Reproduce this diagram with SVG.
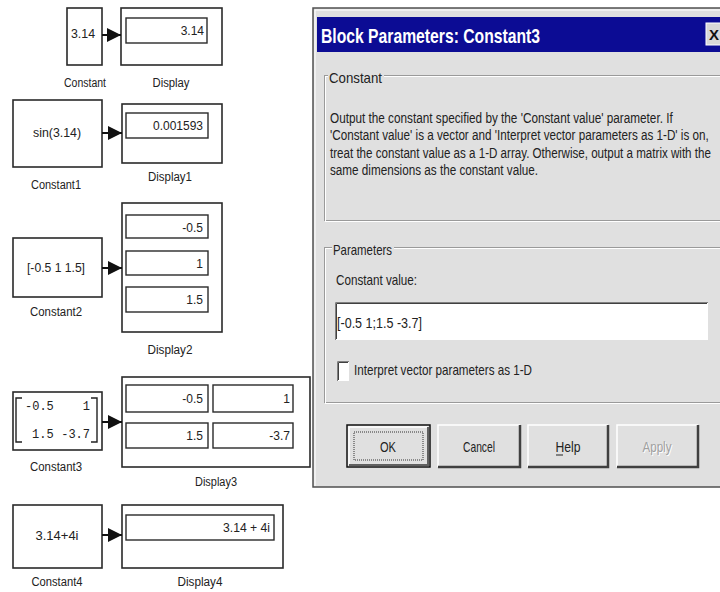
<svg xmlns="http://www.w3.org/2000/svg" width="720" height="592" viewBox="0 0 720 592">
<defs>
<style>
.blk{fill:#fff;stroke:#2a2a2a;stroke-width:1.6}
.fld{fill:#fff;stroke:#2a2a2a;stroke-width:1.4}
.t{font-family:"Liberation Sans",Arial,sans-serif;font-size:12px;fill:#222}
.c{text-anchor:middle}
.e{text-anchor:end}
.m{font-family:"Liberation Mono","DejaVu Sans Mono",monospace;font-size:12px;fill:#222}
.d{font-family:"Liberation Sans",Arial,sans-serif;font-size:15px;fill:#222}
.conn{stroke:#111;stroke-width:2;fill:none}
.etch{fill:none;stroke:#9a9a9a;stroke-width:1}
.etchw{fill:none;stroke:#fff;stroke-width:1}
</style>
<marker id="ah" markerUnits="userSpaceOnUse" markerWidth="14" markerHeight="14" viewBox="0 0 14 14" refX="14" refY="7" orient="auto">
<path d="M0,0 L14,7 L0,14 z" fill="#111"/>
</marker>
</defs>
<rect width="720" height="592" fill="#fff"/>

<g id="Constant">
<rect class="blk" x="67" y="8" width="35" height="57"/>
<text class="t" x="71" y="38" textLength="24" lengthAdjust="spacingAndGlyphs">3.14</text>
<text class="t c" x="85" y="87" textLength="42" lengthAdjust="spacingAndGlyphs">Constant</text>
</g>
<g id="Display">
<rect class="blk" x="121" y="8" width="101" height="57"/>
<rect class="fld" x="126" y="18" width="81" height="25"/>
<text class="t e" x="204" y="35">3.14</text>
<text class="t c" x="171" y="87" textLength="37" lengthAdjust="spacingAndGlyphs">Display</text>
</g>

<g id="Constant1">
<rect class="blk" x="13" y="100" width="89" height="67"/>
<text class="t c" x="57" y="137" textLength="48" lengthAdjust="spacingAndGlyphs">sin(3.14)</text>
<text class="t c" x="56" y="189" textLength="50" lengthAdjust="spacingAndGlyphs">Constant1</text>
</g>
<g id="Display1">
<rect class="blk" x="122" y="104" width="100" height="59"/>
<rect class="fld" x="126" y="113" width="82" height="25"/>
<text class="t e" x="203" y="130" textLength="50" lengthAdjust="spacingAndGlyphs">0.001593</text>
<text class="t c" x="170" y="181" textLength="44" lengthAdjust="spacingAndGlyphs">Display1</text>
</g>

<g id="Constant2">
<rect class="blk" x="13" y="238" width="89" height="59"/>
<text class="t c" x="56" y="272" textLength="58" lengthAdjust="spacingAndGlyphs">[-0.5 1 1.5]</text>
<text class="t c" x="56" y="316" textLength="52" lengthAdjust="spacingAndGlyphs">Constant2</text>
</g>
<g id="Display2">
<rect class="blk" x="122" y="203" width="100" height="129"/>
<rect class="fld" x="126" y="215" width="82" height="23"/>
<rect class="fld" x="126" y="251" width="82" height="24"/>
<rect class="fld" x="126" y="287" width="82" height="25"/>
<text class="t e" x="203" y="232">-0.5</text>
<text class="t e" x="203" y="268">1</text>
<text class="t e" x="203" y="304">1.5</text>
<text class="t c" x="170" y="354" textLength="45" lengthAdjust="spacingAndGlyphs">Display2</text>
</g>

<g id="Constant3">
<rect class="blk" x="13" y="392" width="89" height="58"/>
<path d="M22,398 H16 V442 H22 M91,398 H97 V442 H91" fill="none" stroke="#222" stroke-width="1.4"/>
<text class="m" x="25" y="410">-0.5</text>
<text class="m e" x="90" y="410">1</text>
<text class="m" x="32" y="438">1.5</text>
<text class="m e" x="90" y="438">-3.7</text>
<text class="t c" x="56" y="471" textLength="52" lengthAdjust="spacingAndGlyphs">Constant3</text>
</g>
<g id="Display3">
<rect class="blk" x="122" y="377" width="188" height="90"/>
<rect class="fld" x="126" y="385" width="82" height="27"/>
<rect class="fld" x="213" y="385" width="80" height="27"/>
<rect class="fld" x="126" y="423" width="82" height="25"/>
<rect class="fld" x="213" y="423" width="80" height="25"/>
<text class="t e" x="203" y="403">-0.5</text>
<text class="t e" x="290" y="403">1</text>
<text class="t e" x="203" y="440">1.5</text>
<text class="t e" x="290" y="440">-3.7</text>
<text class="t c" x="216" y="486" textLength="42" lengthAdjust="spacingAndGlyphs">Display3</text>
</g>

<g id="Constant4">
<rect class="blk" x="13" y="505" width="89" height="63"/>
<text class="t c" x="57" y="540" textLength="43" lengthAdjust="spacingAndGlyphs">3.14+4i</text>
<text class="t c" x="57" y="586" textLength="51" lengthAdjust="spacingAndGlyphs">Constant4</text>
</g>
<g id="Display4">
<rect class="blk" x="122" y="505" width="161" height="63"/>
<rect class="fld" x="126" y="515" width="148" height="25"/>
<text class="t e" x="270" y="532" textLength="47" lengthAdjust="spacingAndGlyphs">3.14 + 4i</text>
<text class="t c" x="200" y="586" textLength="45" lengthAdjust="spacingAndGlyphs">Display4</text>
</g>

<g id="connectors">
<path class="conn" d="M102,35 H121" marker-end="url(#ah)"/>
<path class="conn" d="M102,133 H122" marker-end="url(#ah)"/>
<path class="conn" d="M102,268 H122" marker-end="url(#ah)"/>
<path class="conn" d="M102,422 H122" marker-end="url(#ah)"/>
<path class="conn" d="M102,535 H122" marker-end="url(#ah)"/>
</g>

<g id="dialog">
<rect x="313" y="8" width="420" height="479" fill="#e0e0e0" stroke="#505050" stroke-width="1.5"/>
<path d="M315,486 V10 H725" fill="none" stroke="#fff" stroke-width="1"/>
<rect x="317" y="17" width="410" height="35" fill="#0c0c94"/>
<text x="321" y="43" font-family="'Liberation Sans',Arial,sans-serif" font-size="21" font-weight="bold" fill="#fff" textLength="219" lengthAdjust="spacingAndGlyphs">Block Parameters: Constant3</text>
<rect x="706" y="23" width="20" height="22" fill="#d8d8d8" stroke="#fff" stroke-width="1"/>
<text x="709" y="40" font-family="'Liberation Sans',Arial,sans-serif" font-size="15" font-weight="bold" fill="#111">X</text>

<rect class="etch" x="324.5" y="75.5" width="410" height="145"/>
<rect class="etchw" x="325.5" y="76.5" width="410" height="145"/>
<rect x="328" y="68" width="56" height="18" fill="#e0e0e0"/>
<text class="d" x="329" y="83" textLength="53" lengthAdjust="spacingAndGlyphs">Constant</text>
<text class="d" transform="translate(330,123) scale(0.72,1)" textLength="476" lengthAdjust="spacingAndGlyphs">Output the constant specified by the 'Constant value' parameter. If</text>
<text class="d" transform="translate(330,140) scale(0.72,1)" textLength="526" lengthAdjust="spacingAndGlyphs">'Constant value' is a vector and 'Interpret vector parameters as 1-D' is on,</text>
<text class="d" transform="translate(330,158) scale(0.72,1)" textLength="529" lengthAdjust="spacingAndGlyphs">treat the constant value as a 1-D array. Otherwise, output a matrix with the</text>
<text class="d" transform="translate(330,175) scale(0.72,1)" textLength="289" lengthAdjust="spacingAndGlyphs">same dimensions as the constant value.</text>

<rect class="etch" x="324.5" y="247.5" width="410" height="155"/>
<rect class="etchw" x="325.5" y="248.5" width="410" height="155"/>
<rect x="332" y="240" width="62" height="18" fill="#e0e0e0"/>
<text class="d" x="333" y="255" textLength="59" lengthAdjust="spacingAndGlyphs">Parameters</text>
<text class="d" x="336" y="285" textLength="81" lengthAdjust="spacingAndGlyphs">Constant value:</text>
<rect x="335" y="302" width="373" height="38" fill="#fff"/>
<path d="M335.5,340 V302.5 H708" fill="none" stroke="#808080" stroke-width="1"/>
<path d="M336.5,339 V303.5 H707" fill="none" stroke="#404040" stroke-width="1"/>
<text class="d" x="337" y="328" textLength="85" lengthAdjust="spacingAndGlyphs">[-0.5 1;1.5 -3.7]</text>
<rect x="337" y="361" width="12" height="20" fill="#fff"/>
<path d="M337.5,381 V361.5 H349" fill="none" stroke="#808080" stroke-width="1"/>
<path d="M338.5,380 V362.5 H348" fill="none" stroke="#404040" stroke-width="1"/>
<text class="d" x="354" y="375" textLength="178" lengthAdjust="spacingAndGlyphs">Interpret vector parameters as 1-D</text>

<g id="btnOK">
<rect x="347" y="425" width="83" height="42" fill="#e0e0e0" stroke="#111" stroke-width="1.5"/>
<path d="M349,465 V427 H428" fill="none" stroke="#fff" stroke-width="1.5"/>
<path d="M349,465 H428 V427" fill="none" stroke="#606060" stroke-width="2"/>
<rect x="354" y="432" width="69" height="28" fill="none" stroke="#333" stroke-width="1" stroke-dasharray="1,1"/>
<text class="d c" x="388" y="452" textLength="16" lengthAdjust="spacingAndGlyphs">OK</text>
</g>
<g id="btnCancel">
<path d="M438,467 V425 H520" fill="none" stroke="#fff" stroke-width="1.5"/>
<path d="M438,467 H520 V425" fill="none" stroke="#404040" stroke-width="2.5"/>
<text class="d c" x="479" y="452" textLength="32" lengthAdjust="spacingAndGlyphs">Cancel</text>
</g>
<g id="btnHelp">
<path d="M528,467 V425 H608" fill="none" stroke="#fff" stroke-width="1.5"/>
<path d="M528,467 H608 V425" fill="none" stroke="#404040" stroke-width="2.5"/>
<text class="d c" x="568" y="452" textLength="25" lengthAdjust="spacingAndGlyphs">Help</text>
<path d="M556,455 H563" stroke="#222" stroke-width="1"/>
</g>
<g id="btnApply">
<path d="M617,467 V425 H698" fill="none" stroke="#fff" stroke-width="1.5"/>
<path d="M617,467 H698 V425" fill="none" stroke="#404040" stroke-width="2.5"/>
<text class="d c" x="658" y="453" style="fill:#ffffff" textLength="29" lengthAdjust="spacingAndGlyphs">Apply</text>
<text class="d c" x="657" y="452" style="fill:#a0a0a0" textLength="29" lengthAdjust="spacingAndGlyphs">Apply</text>
</g>
</g>
</svg>
